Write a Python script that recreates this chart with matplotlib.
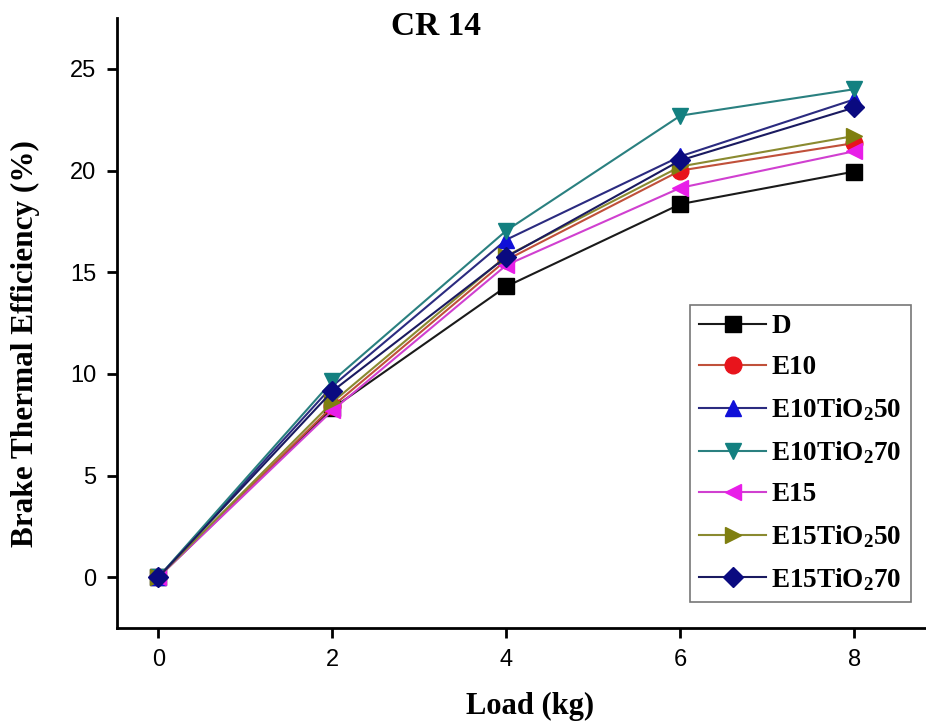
import matplotlib
matplotlib.use("Agg")
import matplotlib.pyplot as plt

plt.rcParams['mathtext.fontset'] = 'custom'
plt.rcParams['mathtext.rm'] = 'Liberation Serif:bold'
plt.rcParams['mathtext.it'] = 'Liberation Serif:bold'
plt.rcParams['mathtext.bf'] = 'Liberation Serif:bold'
plt.rcParams['mathtext.default'] = 'regular'

# load (kg)
load = [0, 2, 4, 6, 8]

# brake thermal efficiency (%) per blend
bte_d = [0, 8.3, 14.3, 18.35, 19.95]
bte_e10 = [0, 8.4, 15.6, 20.0, 21.35]
bte_e10tio2_50 = [0, 9.4, 16.6, 20.7, 23.5]
bte_e10tio2_70 = [0, 9.65, 17.05, 22.7, 24.0]
bte_e15 = [0, 8.2, 15.35, 19.15, 20.95]
bte_e15tio2_50 = [0, 8.6, 15.8, 20.2, 21.7]
bte_e15tio2_70 = [0, 9.15, 15.75, 20.5, 23.1]

labels = ['D', 'E10', r'E10TiO$_2$50', r'E10TiO$_2$70', 'E15',
          r'E15TiO$_2$50', r'E15TiO$_2$70']
series = [bte_d, bte_e10, bte_e10tio2_50, bte_e10tio2_70, bte_e15,
          bte_e15tio2_50, bte_e15tio2_70]
colors = ['#000000', '#e8141c', '#1010d8', '#138080', '#e81ee8', '#7f7f10', '#0a0a80']
line_colors = ['#1a1a1a', '#c0503a', '#2b2b80', '#2a8080', '#d040d0', '#8a8a30', '#1a1a60']
markers = ['s', 'o', '^', 'v', '<', '>', 'D']
sizes = [11, 12, 12, 12, 12, 12, 10]

fig = plt.figure(figsize=(9.26, 7.24), dpi=100)
ax = fig.add_axes([0.1264, 0.1326, 0.88, 0.8425])

for ys, lab, c, lc, m, s in zip(series, labels, colors, line_colors, markers, sizes):
    ax.plot(load, ys, color=lc, lw=1.5, marker=m, markersize=s,
            markerfacecolor=c, markeredgecolor=c, label=lab)

ax.set_xlim(-0.475, 8.89)
ax.set_ylim(-2.5, 27.5)
ax.set_xticks([0, 2, 4, 6, 8])
ax.set_yticks([0, 5, 10, 15, 20, 25])

ax.spines['top'].set_visible(False)
ax.spines['right'].set_visible(False)
for sp in ('left', 'bottom'):
    ax.spines[sp].set_linewidth(2)
ax.tick_params(direction='out', length=7, width=2, labelsize=17, pad=8)
for t in ax.get_xticklabels() + ax.get_yticklabels():
    t.set_fontfamily('Liberation Sans')

ax.set_xlabel('Load (kg)', fontsize=22, fontweight='bold',
              fontfamily='Liberation Serif')
ax.set_ylabel('Brake Thermal Efficiency (%)', fontsize=22.5, fontweight='bold',
              fontfamily='Liberation Serif')
ax.xaxis.set_label_coords(0.507, -0.105)
ax.yaxis.set_label_coords(-0.0945, 0.466)

fig.text(0.471, 0.963, 'CR 14', ha='center', va='center', fontsize=24,
         fontweight='bold', fontfamily='Liberation Serif')

leg = ax.legend(loc='upper left', bbox_to_anchor=(690 / 926, 1 - 305 / 724),
                bbox_transform=fig.transFigure, frameon=True, fancybox=False,
                edgecolor='#555555', handlelength=2.45, handletextpad=0.2,
                labelspacing=0.59, borderpad=0.35, borderaxespad=0,
                prop={'family': 'Liberation Serif', 'weight': 'bold', 'size': 19.5})
leg.get_frame().set_linewidth(1.2)

fig.savefig('out.png', dpi=100)
